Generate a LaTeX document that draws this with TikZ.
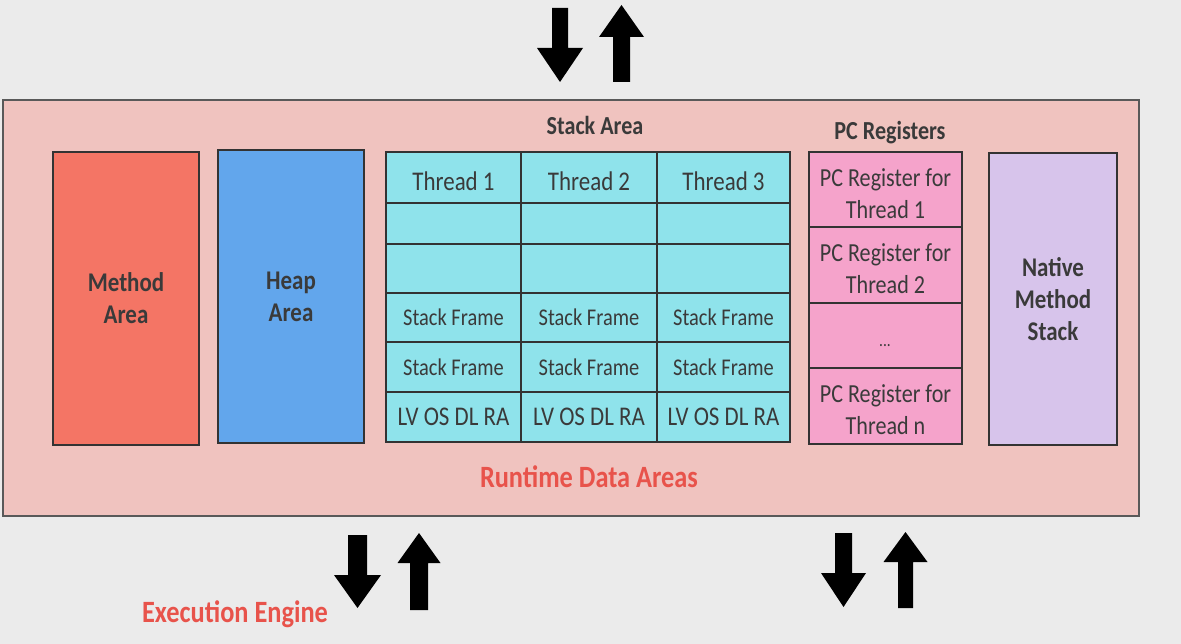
\documentclass[tikz,border=0pt]{standalone}
\usepackage{fontspec}
\setmainfont[FakeStretch=0.85]{Carlito}
\definecolor{bg}{HTML}{EBEBEB}
\definecolor{outerc}{HTML}{F0C3BF}
\definecolor{methodc}{HTML}{F47565}
\definecolor{heapc}{HTML}{62A6EC}
\definecolor{cyanc}{HTML}{8FE3EB}
\definecolor{pinkc}{HTML}{F5A3CB}
\definecolor{nativec}{HTML}{D7C4EB}
\definecolor{txt}{HTML}{3A3A3A}
\definecolor{redt}{HTML}{E8534B}
\definecolor{edgec}{HTML}{333333}
\newcommand\rbox[7]{\node[#6,minimum width={#4-#2},minimum height={#5-#3}] (#1) at ({(#2+#4)/2},{(#3+#5)/2}) {#7};}
% box with its text lowered by a few points
\newcommand\rboxd[8]{\node[#6,minimum width={#4-#2},minimum height={#5-#3}] (#1) at ({(#2+#4)/2},{(#3+#5)/2}) {};
  \node[#7] (#1-t) at ({(#2+#4)/2},{(#3+#5)/2+4}) {#8};}
\newcommand\arrdown[6]{\fill[black] (#1-#2,#3) -- (#1+#2,#3) -- (#1+#2,#4) -- (#1+#5,#4) -- (#1,#6) -- (#1-#5,#4) -- (#1-#2,#4) -- cycle;}
\begin{document}
\begin{tikzpicture}[x=1pt,y=-1pt,
  box/.style={draw=edgec, line width=2.5pt, inner sep=0pt, text=txt, align=center},
  bigl/.style={font=\fontsize{27}{32}\selectfont\bfseries},
  thr/.style={box, fill=cyanc, font=\fontsize{27}{30}\selectfont},
  thrt/.style={text=txt, inner sep=0pt, font=\fontsize{27}{30}\selectfont},
  sf/.style={box, fill=cyanc, font=\fontsize{24}{27}\selectfont},
  pcr/.style={box, fill=pinkc},
  pct/.style={text=txt, inner sep=0pt, align=center, font=\fontsize{26}{32}\selectfont},
  lbl/.style={text=txt, font=\fontsize{26}{30}\selectfont\bfseries},
  redl/.style={text=redt, font=\fontsize{31}{34}\selectfont\bfseries}]
\fill[bg] (0,0) rectangle (1181,644);
\useasboundingbox (0,0) rectangle (1181,644);
\rbox{outer}{3}{100}{1139}{516}{draw=black!65, line width=2pt, fill=outerc}{}
\rbox{method}{53}{152}{199}{445}{box, fill=methodc, bigl}{Method\\Area}
\rbox{heap}{218}{150}{364}{443}{box, fill=heapc, bigl}{Heap\\Area}
\rbox{native}{989}{153}{1117}{445}{box, fill=nativec, bigl}{Native\\Method\\Stack}
% stack grid
\rboxd{t1}{386}{152}{521}{203}{thr}{thrt}{Thread 1}
\rboxd{t2}{521}{152}{657}{203}{thr}{thrt}{Thread 2}
\rboxd{t3}{657}{152}{790}{203}{thr}{thrt}{Thread 3}
\rbox{a1}{386}{203}{521}{244}{thr}{}
\rbox{a2}{521}{203}{657}{244}{thr}{}
\rbox{a3}{657}{203}{790}{244}{thr}{}
\rbox{b1}{386}{244}{521}{293}{thr}{}
\rbox{b2}{521}{244}{657}{293}{thr}{}
\rbox{b3}{657}{244}{790}{293}{thr}{}
\rbox{c1}{386}{293}{521}{342}{sf}{Stack Frame}
\rbox{c2}{521}{293}{657}{342}{sf}{Stack Frame}
\rbox{c3}{657}{293}{790}{342}{sf}{Stack Frame}
\rbox{d1}{386}{342}{521}{392}{sf}{Stack Frame}
\rbox{d2}{521}{342}{657}{392}{sf}{Stack Frame}
\rbox{d3}{657}{342}{790}{392}{sf}{Stack Frame}
\rbox{e1}{386}{392}{521}{442}{thr}{LV OS DL RA}
\rbox{e2}{521}{392}{657}{442}{thr}{LV OS DL RA}
\rbox{e3}{657}{392}{790}{442}{thr}{LV OS DL RA}
\node[lbl] (stacklbl) at (595,125) {Stack Area};
% PC registers
\node[lbl] (pclbl) at (890,133) {PC Registers};
\rboxd{pc1}{809}{152}{962}{227}{pcr}{pct}{PC Register for\\Thread 1}
\rboxd{pc2}{809}{227}{962}{303}{pcr}{pct}{PC Register for\\Thread 2}
\rbox{pc3}{809}{303}{962}{368}{pcr}{}
\node[text=txt, font=\fontsize{18}{20}\selectfont] (dots) at (885,346) {...};
\rboxd{pcn}{809}{368}{962}{444}{pcr}{pct}{PC Register for\\Thread n}
\node[redl] (rda) at (589,477) {Runtime Data Areas};
\node[redl] (ee) at (235,614) {Execution Engine};
% arrows
\arrdown{560}{8}{8}{48}{23}{82}
\arrdown{621.5}{8.5}{82}{37}{22.5}{5}
\arrdown{357.5}{9.5}{535}{575}{23.5}{608}
\arrdown{419}{9}{610}{563}{21.5}{533}
\arrdown{843.5}{8.5}{533}{573}{22.5}{607}
\arrdown{905.5}{7.5}{608}{562}{22}{532}
\end{tikzpicture}
\end{document}
